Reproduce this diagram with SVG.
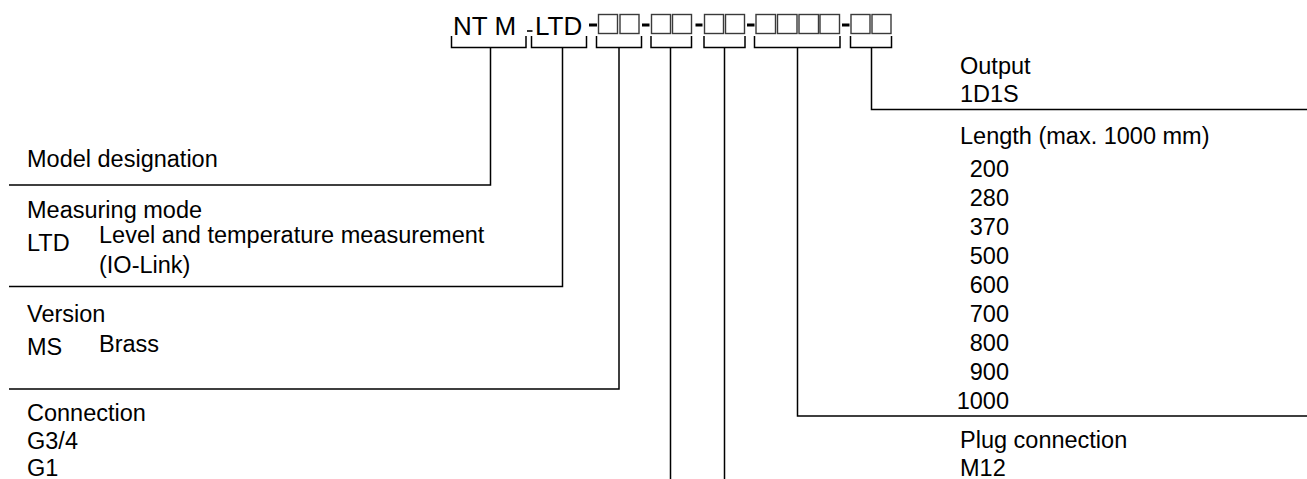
<svg xmlns="http://www.w3.org/2000/svg" width="1307" height="479" viewBox="0 0 1307 479">
<style>
text{font-family:"Liberation Sans",Arial,sans-serif;font-size:23.5px;fill:#000}
.hdr{font-size:26px}
.ln{stroke:#000;stroke-width:1.5;fill:none}
.bx{stroke:#3a3a3a;stroke-width:1.4;fill:none}
.dash{fill:#000}
</style>
<rect width="1307" height="479" fill="#fff"/>
<g id="header">
<text class="hdr" x="453" y="35">NT M</text>
<line x1="527" y1="31" x2="532.5" y2="31" stroke="#000" stroke-width="1.6"/>
<text class="hdr" x="535" y="35">LTD</text>
<rect class="dash" x="589" y="23.5" width="8" height="3"/>
<rect class="bx" x="598.5" y="14.5" width="19" height="19"/>
<rect class="bx" x="620" y="14.5" width="19" height="19"/>
<rect class="dash" x="642" y="23.5" width="7.5" height="3"/>
<rect class="bx" x="651.5" y="14.5" width="19" height="19"/>
<rect class="bx" x="672.5" y="14.5" width="19" height="19"/>
<rect class="dash" x="695.5" y="23.5" width="7" height="3"/>
<rect class="bx" x="704.5" y="14.5" width="19" height="19"/>
<rect class="bx" x="725.5" y="14.5" width="19" height="19"/>
<rect class="dash" x="747" y="23.5" width="7.5" height="3"/>
<rect class="bx" x="756" y="14.5" width="19.5" height="19"/>
<rect class="bx" x="777.5" y="14.5" width="19.5" height="19"/>
<rect class="bx" x="799" y="14.5" width="19.5" height="19"/>
<rect class="bx" x="820" y="14.5" width="19.5" height="19"/>
<rect class="dash" x="842" y="23.5" width="7.5" height="3"/>
<rect class="bx" x="851" y="14.5" width="19" height="19"/>
<rect class="bx" x="872" y="14.5" width="19" height="19"/>
</g>
<g id="connectors">
<path class="ln" d="M451.5,36V47.5H526V36 M531.5,36V47.5H586.5V36 M596.5,36V47.5H641.5V36 M651,36V47.5H691.5V36 M704,36V47.5H745V36 M754.5,36V47.5H840V36 M850.5,36V47.5H891.5V36"/>
<path class="ln" d="M490.5,47.5V185H9"/>
<path class="ln" d="M562.5,47.5V286.5H9"/>
<path class="ln" d="M619,47.5V389H9"/>
<path class="ln" d="M670.5,47.5V479"/>
<path class="ln" d="M724.5,47.5V479"/>
<path class="ln" d="M797.5,47.5V416H1307"/>
<path class="ln" d="M871.5,47.5V109.5H1307"/>
</g>
<g id="model-designation">
<text x="27" y="167">Model designation</text>
</g>
<g id="measuring-mode">
<text x="27" y="218">Measuring mode</text>
<text x="27" y="251">LTD</text>
<text x="99" y="243">Level and temperature measurement</text>
<text x="99" y="273">(IO-Link)</text>
</g>
<g id="version">
<text x="27" y="322">Version</text>
<text x="27" y="355">MS</text>
<text x="99" y="352">Brass</text>
</g>
<g id="connection">
<text x="27" y="421">Connection</text>
<text x="27" y="449">G3/4</text>
<text x="27" y="476">G1</text>
</g>
<g id="output">
<text x="960" y="74">Output</text>
<text x="960" y="102">1D1S</text>
</g>
<g id="length">
<text x="960" y="144">Length (max. 1000 mm)</text>
<g text-anchor="end">
<text x="1009" y="177">200</text>
<text x="1009" y="206">280</text>
<text x="1009" y="235">370</text>
<text x="1009" y="264">500</text>
<text x="1009" y="293">600</text>
<text x="1009" y="322">700</text>
<text x="1009" y="351">800</text>
<text x="1009" y="380">900</text>
<text x="1009" y="409">1000</text>
</g>
</g>
<g id="plug-connection">
<text x="960" y="448">Plug connection</text>
<text x="960" y="476">M12</text>
</g>
</svg>
